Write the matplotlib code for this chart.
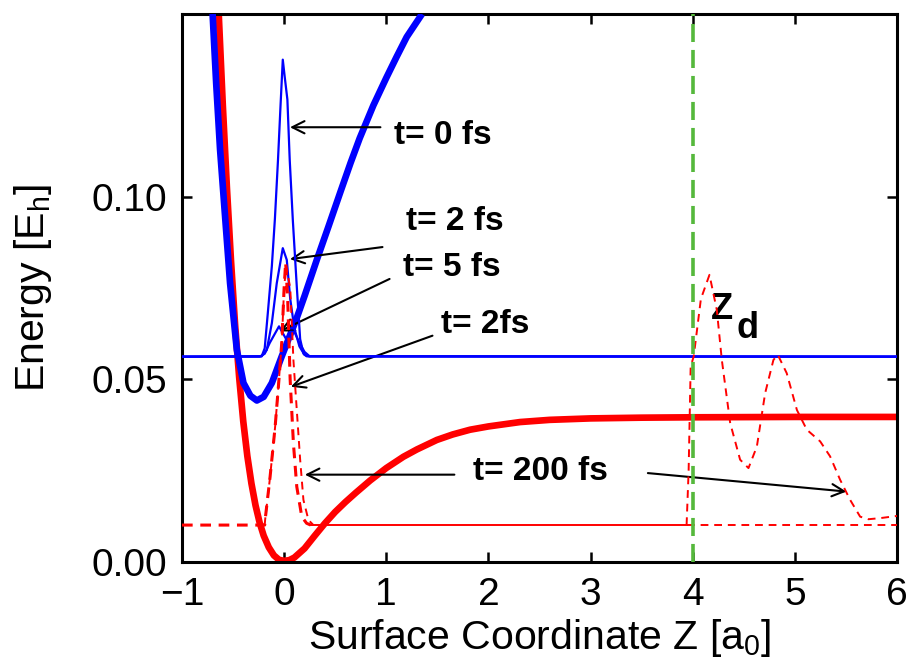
import matplotlib
matplotlib.use("Agg")
import matplotlib.pyplot as plt

plt.rcParams["font.family"] = ["Liberation Sans", "DejaVu Sans"]
plt.rcParams["mathtext.fontset"] = "custom"
plt.rcParams["mathtext.rm"] = "Liberation Sans"

# ---------------------------------------------------------
# Data
# ---------------------------------------------------------

# ground state potential (thick red)
ground_z = [-0.64, -0.60, -0.56, -0.52, -0.48, -0.44, -0.40, -0.36, -0.32, -0.28,
            -0.24, -0.20, -0.15, -0.10, -0.05, 0.0, 0.05, 0.10, 0.20, 0.30, 0.40,
            0.50, 0.60, 0.70, 0.842, 1.0, 1.168, 1.30, 1.495, 1.65, 1.82, 2.0,
            2.31, 2.6, 3.0, 3.5, 4.0, 5.0, 6.0]
ground_e = [0.150, 0.125, 0.1025, 0.0825, 0.0650, 0.0505, 0.0385, 0.0290, 0.0215,
            0.0155, 0.0108, 0.0072, 0.0040, 0.0018, 0.0006, 0.0003, 0.0005, 0.0012,
            0.0037, 0.0072, 0.0106, 0.0137, 0.0164, 0.0189, 0.0223, 0.0257, 0.0288,
            0.0308, 0.0334, 0.0349, 0.0362, 0.0371, 0.0383, 0.0389, 0.0393, 0.0395,
            0.0396, 0.0397, 0.0397]

# excited state potential (thick blue)
excited_z = [-0.70, -0.665, -0.627, -0.578, -0.529, -0.463, -0.398, -0.33, -0.267,
             -0.20, -0.12, -0.023, 0.05, 0.124, 0.20, 0.32, 0.434, 0.55, 0.65,
             0.74, 0.874, 1.0, 1.1, 1.2, 1.35]
excited_e = [0.150, 0.131, 0.1129, 0.0946, 0.0763, 0.0581, 0.049, 0.0455, 0.0442,
             0.0452, 0.049, 0.0563, 0.0615, 0.0668, 0.0728, 0.0827, 0.0918, 0.1012,
             0.1092, 0.1160, 0.1250, 0.1325, 0.1382, 0.1437, 0.150]

# excited wave packets (thin blue), baseline at the excited level
excited_level = 0.0562
wp0_z = [-1.0, -0.22, -0.19, -0.16, -0.12, -0.09, -0.06, -0.035, -0.013, 0.005,
         0.032, 0.055, 0.085, 0.124, 0.157, 0.19, 0.22, 6.0]
wp0_e = [0.0562, 0.0563, 0.0585, 0.068, 0.081, 0.094, 0.110, 0.125, 0.1375, 0.133,
         0.1266, 0.110, 0.0937, 0.0754, 0.061, 0.057, 0.0563, 0.0562]
wp2_z = [-1.0, -0.22, -0.17, -0.12, -0.072, -0.013, 0.026, 0.06, 0.10, 0.15, 0.20,
         0.24, 6.0]
wp2_e = [0.0562, 0.0563, 0.058, 0.0654, 0.0763, 0.0859, 0.0827, 0.072, 0.064,
         0.059, 0.0567, 0.0563, 0.0562]
wp5_z = [-1.0, -0.24, -0.19, -0.14, -0.09, -0.05, -0.02, 0.02, 0.06, 0.10, 0.15,
         0.20, 0.25, 6.0]
wp5_e = [0.0562, 0.0562, 0.057, 0.060, 0.0625, 0.0645, 0.063, 0.061, 0.063,
         0.063, 0.060, 0.0575, 0.0563, 0.0562]

# ground wave packets (red dashed), baseline at the ground level
ground_level = 0.0101
gp2_z = [-1.0, -0.19, -0.186, -0.137, -0.088, -0.056, -0.023, 0.0, 0.015, 0.035,
         0.059, 0.091, 0.124, 0.173, 0.22, 0.26]
gp2_e = [0.0101, 0.0101, 0.0115, 0.0234, 0.037, 0.048, 0.060, 0.075, 0.082,
         0.072, 0.050, 0.0325, 0.0206, 0.0124, 0.0106, 0.0101]
gp200_z = [-0.19, -0.186, -0.137, -0.088, -0.056, -0.023, 0.0, 0.02, 0.06, 0.091,
           0.124, 0.157, 0.189, 0.238, 0.287]
gp200_e = [0.0101, 0.0115, 0.0234, 0.037, 0.048, 0.060, 0.075, 0.081, 0.075,
           0.0553, 0.0416, 0.028, 0.017, 0.0115, 0.0101]
gp200_far_z = [3.94, 3.96, 3.98, 4.01, 4.08, 4.164, 4.236, 4.285, 4.367, 4.464,
               4.546, 4.628, 4.709, 4.79, 4.833, 4.92, 5.02, 5.117, 5.248, 5.345,
               5.443, 5.541, 5.639, 5.72, 5.835, 6.0]
gp200_far_e = [0.0101, 0.025, 0.0535, 0.0563, 0.072, 0.0786, 0.069, 0.0553, 0.038,
               0.028, 0.0257, 0.0316, 0.0462, 0.0553, 0.0567, 0.0517, 0.0416,
               0.0362, 0.033, 0.0289, 0.0225, 0.017, 0.0124, 0.0117, 0.012, 0.0126]
level_mid_z = [0.26, 3.94]
level_far_z = [3.94, 6.0]

z_detector = 4.0

# ---------------------------------------------------------
# Plot
# ---------------------------------------------------------

fig = plt.figure(figsize=(9.08, 6.66), dpi=100)
ax = fig.add_axes([0.2004, 0.1562, 0.7875, 0.8228])

ax.plot(ground_z, ground_e, color="red", lw=4.8, solid_capstyle="butt",
        solid_joinstyle="round", zorder=2)
ax.plot(excited_z, excited_e, color="blue", lw=4.8, solid_capstyle="butt",
        solid_joinstyle="round", zorder=3)

for zs, es in [(wp0_z, wp0_e), (wp2_z, wp2_e), (wp5_z, wp5_e)]:
    ax.plot(zs, es, color="blue", lw=1.6, zorder=4)

ax.plot(level_mid_z, [ground_level] * 2, color="red", lw=1.4, zorder=4)
ax.plot(level_far_z, [ground_level] * 2, color="red", lw=1.4, ls=(0, (4, 3)), zorder=4)
ax.plot(gp2_z, gp2_e, color="red", lw=2.2, ls=(0, (3.5, 2.5)), zorder=5)
ax.plot(gp200_z, gp200_e, color="red", lw=1.4, ls=(0, (4, 3)), zorder=5)
ax.plot(gp200_far_z, gp200_far_e, color="red", lw=1.4, ls=(0, (4, 3)), zorder=5)

ax.axvline(z_detector, color="#55b83c", lw=2.6, ls=(0, (5, 2.2)), zorder=6)

ax.set_xlim(-1, 6)
ax.set_ylim(0, 0.15)
ax.set_xticks([-1, 0, 1, 2, 3, 4, 5, 6])
ax.set_xticklabels(["\u22121", "0", "1", "2", "3", "4", "5", "6"])
ax.set_yticks([0.0, 0.05, 0.10])
ax.set_yticklabels(["0.00", "0.05", "0.10"])
ax.tick_params(direction="in", length=7, width=1.8, labelsize=28,
               top=True, right=True, pad=11)
for sp in ax.spines.values():
    sp.set_linewidth(2.2)

ax.set_xlabel("Surface Coordinate Z [a$_\\mathregular{0}$]", fontsize=29.5, labelpad=3)
ax.set_ylabel("Energy [E$_\\mathregular{h}$]", fontsize=29.5, labelpad=27)

# annotations
arrow = dict(arrowstyle="->", color="black", lw=1.5, mutation_scale=22)
txt = dict(fontsize=24, fontweight="bold", ha="center", va="center")

ax.text(1.557, 0.1168, "t= 0 fs", **txt)
ax.annotate("", xy=(0.03, 0.119), xytext=(0.97, 0.119), arrowprops=arrow)
ax.text(1.674, 0.0932, "t= 2 fs", **txt)
ax.annotate("", xy=(0.03, 0.0828), xytext=(0.99, 0.0863), arrowprops=arrow)
ax.text(1.645, 0.0806, "t= 5 fs", **txt)
ax.annotate("", xy=(-0.069, 0.0628), xytext=(1.057, 0.0778), arrowprops=arrow)
ax.text(1.968, 0.065, "t= 2fs", **txt)
ax.annotate("", xy=(0.04, 0.0477), xytext=(1.478, 0.0622), arrowprops=arrow)
ax.text(2.506, 0.0247, "t= 200 fs", **txt)
ax.annotate("", xy=(0.176, 0.0239), xytext=(1.694, 0.0239), arrowprops=arrow)
ax.annotate("", xy=(5.532, 0.0192), xytext=(3.534, 0.0244), arrowprops=arrow)

ax.text(4.29, 0.069, "Z", fontsize=26, fontweight="bold", ha="center", va="center")
ax.text(4.54, 0.064, "d", fontsize=26, fontweight="bold", ha="center", va="center")

fig.savefig("out.png", dpi=100)
